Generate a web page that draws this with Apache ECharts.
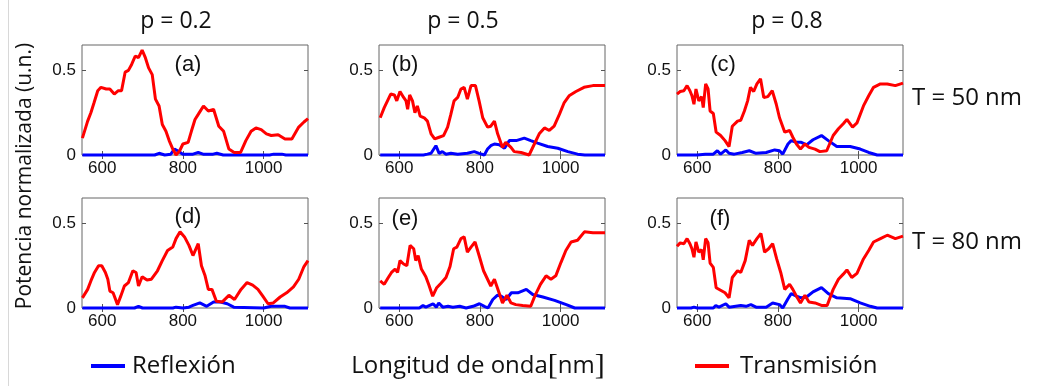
<!DOCTYPE html>
<html>
<head>
<meta charset="utf-8">
<script src="https://cdn.jsdelivr.net/npm/echarts@6.0.0/dist/echarts.min.js"></script>
<style>
  html, body { margin: 0; padding: 0; background: #fff; }
  #chart { width: 1039px; height: 386px; }
</style>
</head>
<body>
<div id="chart"></div>
<script>
// ejes comunes
const X_MIN = 550, X_MAX = 1110;
const Y_MIN = 0, Y_MAX = 0.65;
const xTicks = [600, 800, 1000];
const xTickLabels = ['600', '800', '1000'];
const yTicks = [0, 0.5];
const yTickLabels = ['0', '0.5'];

const panelLetters = ['(a)', '(b)', '(c)', '(d)', '(e)', '(f)'];
const colTitles = ['p = 0.2', 'p = 0.5', 'p = 0.8'];
const rowTitles = ['T = 50 nm', 'T = 80 nm'];
const seriesNames = ['Reflexión', 'Transmisión'];

// (a) p = 0.2, T = 50 nm
const transA = [[551,0.10],[564,0.20],[572,0.25],[580,0.31],[589,0.38],[597,0.40],[610,0.39],[619,0.39],[630,0.36],[640,0.38],[648,0.38],[657,0.49],[665,0.50],[673,0.535],[682,0.585],[690,0.575],[699,0.62],[707,0.575],[715,0.515],[724,0.475],[732,0.33],[741,0.29],[749,0.18],[758,0.14],[766,0.085],[775,0.035],[783,0.0],[792,0.025],[800,0.065],[813,0.075],[821,0.14],[830,0.21],[838,0.24],[851,0.29],[863,0.26],[876,0.27],[889,0.17],[901,0.14],[914,0.035],[927,0.015],[943,0.015],[956,0.085],[969,0.14],[981,0.16],[994,0.15],[1007,0.125],[1019,0.115],[1036,0.12],[1053,0.095],[1070,0.095],[1087,0.165],[1100,0.195],[1110,0.215]];
const reflA = [[551,0],[730,0],[741,0.01],[755,0],[770,0.005],[779,0.035],[787,0.025],[800,0.005],[825,0.005],[838,0.015],[850,0.005],[875,0.005],[884,0.01],[900,0],[1015,0],[1025,0.005],[1045,0.005],[1055,0],[1110,0]];

// (b) p = 0.5, T = 50 nm
const transB = [[553,0.22],[563,0.28],[571,0.32],[579,0.36],[588,0.355],[594,0.32],[602,0.375],[611,0.34],[617,0.32],[621,0.27],[626,0.355],[633,0.32],[639,0.25],[645,0.29],[652,0.23],[662,0.22],[670,0.20],[679,0.125],[688,0.095],[699,0.105],[710,0.115],[720,0.165],[728,0.24],[736,0.32],[745,0.34],[753,0.39],[761,0.40],[769,0.33],[778,0.41],[789,0.41],[798,0.32],[807,0.22],[819,0.165],[827,0.17],[836,0.20],[844,0.125],[856,0.045],[864,0.075],[877,0.045],[885,0.02],[902,0.015],[922,0.0],[935,0.065],[947,0.125],[960,0.16],[972,0.145],[984,0.17],[997,0.24],[1009,0.31],[1021,0.35],[1038,0.375],[1058,0.40],[1080,0.41],[1110,0.41]];
const reflB = [[553,0],[660,0],[670,0.005],[679,0.01],[691,0.055],[699,0.01],[707,0.02],[716,0.005],[728,0.01],[745,0.005],[769,0.01],[786,0.02],[798,0.01],[811,0.0],[819,0.035],[827,0.055],[836,0.065],[848,0.06],[861,0.04],[873,0.085],[890,0.085],[910,0.10],[926,0.085],[943,0.07],[968,0.05],[993,0.04],[1018,0.02],[1042,0.005],[1060,0],[1110,0]];

// (c) p = 0.8, T = 50 nm
const transC = [[550,0.36],[558,0.375],[567,0.38],[575,0.41],[582,0.38],[587,0.35],[592,0.30],[597,0.39],[604,0.32],[611,0.345],[615,0.28],[621,0.42],[627,0.39],[632,0.26],[640,0.245],[647,0.135],[658,0.115],[669,0.085],[679,0.05],[687,0.17],[700,0.20],[708,0.205],[717,0.26],[725,0.32],[732,0.40],[740,0.375],[748,0.42],[757,0.45],[765,0.34],[775,0.345],[786,0.38],[796,0.30],[804,0.22],[817,0.135],[829,0.145],[837,0.105],[846,0.065],[856,0.035],[867,0.065],[877,0.045],[892,0.035],[904,0.02],[921,0.025],[937,0.115],[950,0.155],[962,0.185],[971,0.21],[985,0.165],[996,0.19],[1012,0.29],[1025,0.35],[1037,0.40],[1054,0.42],[1071,0.42],[1091,0.41],[1110,0.425]];
const reflC = [[550,0],[600,0],[620,0.005],[640,0.005],[650,0.025],[658,0.005],[671,0.03],[679,0.01],[692,0.005],[712,0.015],[729,0.025],[746,0.01],[771,0.015],[792,0.03],[804,0.025],[812,0.005],[825,0.065],[833,0.085],[846,0.075],[858,0.075],[871,0.06],[887,0.09],[908,0.115],[925,0.085],[946,0.05],[979,0.05],[1004,0.035],[1025,0.015],[1046,0.0],[1110,0]];

// (d) p = 0.2, T = 80 nm
const transD = [[551,0.06],[564,0.11],[572,0.16],[581,0.21],[591,0.25],[599,0.25],[608,0.21],[614,0.17],[619,0.10],[627,0.09],[638,0.02],[646,0.07],[655,0.13],[665,0.15],[669,0.16],[676,0.22],[684,0.21],[690,0.13],[699,0.185],[711,0.165],[722,0.17],[737,0.22],[749,0.28],[762,0.34],[775,0.36],[783,0.41],[793,0.45],[804,0.42],[815,0.37],[825,0.31],[838,0.38],[846,0.25],[855,0.19],[863,0.11],[872,0.11],[883,0.04],[897,0.035],[914,0.075],[928,0.05],[944,0.11],[959,0.15],[973,0.135],[986,0.11],[998,0.07],[1011,0.025],[1024,0.03],[1041,0.065],[1057,0.09],[1074,0.125],[1087,0.17],[1100,0.245],[1110,0.28]];
const reflD = [[551,0],[680,0],[690,0.01],[700,0],[775,0],[783,0.005],[800,0],[815,0.005],[825,0.015],[842,0.03],[859,0.01],[876,0.035],[893,0.035],[910,0.025],[926,0.005],[1000,0],[1019,0.01],[1053,0.01],[1065,0],[1110,0]];

// (e) p = 0.5, T = 80 nm
const transE = [[553,0.16],[563,0.14],[573,0.18],[581,0.21],[590,0.23],[596,0.21],[602,0.28],[611,0.26],[619,0.25],[627,0.37],[636,0.35],[641,0.28],[647,0.31],[655,0.23],[666,0.185],[673,0.14],[683,0.07],[693,0.12],[703,0.145],[716,0.18],[726,0.245],[735,0.35],[743,0.36],[753,0.41],[761,0.42],[769,0.33],[778,0.36],[788,0.39],[798,0.31],[809,0.22],[819,0.17],[827,0.13],[836,0.17],[846,0.10],[856,0.03],[867,0.075],[877,0.03],[889,0.02],[906,0.015],[926,0.01],[936,0.07],[950,0.14],[964,0.19],[976,0.17],[988,0.19],[1001,0.27],[1013,0.34],[1026,0.39],[1042,0.40],[1059,0.45],[1080,0.445],[1110,0.445]];
const reflE = [[553,0],[650,0],[659,0.015],[666,0.005],[684,0.025],[692,0.005],[698,0.03],[708,0.005],[721,0.01],[733,0.005],[750,0.01],[766,0.0],[783,0.01],[799,0.025],[811,0.01],[820,0.0],[832,0.05],[843,0.075],[853,0.07],[865,0.05],[878,0.09],[894,0.09],[915,0.11],[931,0.08],[956,0.065],[985,0.045],[1014,0.02],[1035,0.0],[1110,0]];

// (f) p = 0.8, T = 80 nm
const transF = [[550,0.365],[558,0.385],[567,0.38],[575,0.41],[582,0.38],[587,0.35],[592,0.30],[597,0.39],[604,0.33],[611,0.345],[615,0.285],[621,0.41],[627,0.385],[632,0.265],[640,0.24],[647,0.12],[658,0.105],[669,0.09],[679,0.06],[687,0.18],[700,0.22],[708,0.21],[719,0.28],[729,0.40],[737,0.37],[748,0.41],[758,0.44],[767,0.33],[777,0.35],[787,0.38],[797,0.29],[807,0.21],[817,0.11],[829,0.14],[837,0.11],[846,0.07],[856,0.03],[867,0.075],[877,0.035],[892,0.03],[908,0.015],[922,0.015],[937,0.11],[950,0.17],[962,0.20],[971,0.225],[983,0.18],[996,0.205],[1012,0.29],[1025,0.34],[1037,0.39],[1054,0.41],[1071,0.43],[1091,0.41],[1110,0.425]];
const reflF = [[550,0],[585,0],[592,0.005],[600,0],[640,0],[646,0.015],[654,0.005],[671,0.025],[679,0.005],[708,0.015],[721,0.01],[733,0.02],[746,0.005],[771,0.005],[787,0.03],[804,0.02],[812,0.0],[825,0.055],[833,0.085],[846,0.07],[858,0.06],[871,0.065],[887,0.095],[908,0.12],[925,0.085],[946,0.06],[979,0.055],[1004,0.03],[1029,0.01],[1046,0],[1110,0]];

const reflData = [reflA, reflB, reflC, reflD, reflE, reflF];
const transData = [transA, transB, transC, transD, transE, transF];

// posiciones de los paneles (px)
const colLeft = [82, 379, 677];
const rowTop = [45, 198];
const panelW = 226, panelH = 110;

const chart = echarts.init(document.getElementById('chart'));

const grids = [], xAxes = [], yAxes = [], series = [];
const tickColor = '#555';
const labelFont = 'Liberation Sans, Arial, sans-serif';

for (let i = 0; i < 6; i++) {
  const r = Math.floor(i / 3), c = i % 3;
  grids.push({
    left: colLeft[c], top: rowTop[r], width: panelW, height: panelH,
    show: true, borderColor: '#666', borderWidth: 1, backgroundColor: '#fff'
  });
  // abajo / arriba
  xAxes.push({
    type: 'value', gridIndex: i, min: X_MIN, max: X_MAX,
    axisLine: { show: false },
    axisTick: { inside: true, length: 4, customValues: xTicks, lineStyle: { color: tickColor } },
    axisLabel: {
      customValues: xTicks, fontSize: 17, color: '#111', margin: 5, fontFamily: labelFont,
      formatter: v => xTickLabels[xTicks.indexOf(v)]
    },
    splitLine: { show: false }
  });
  xAxes.push({
    type: 'value', gridIndex: i, min: X_MIN, max: X_MAX, position: 'top',
    axisLine: { show: false },
    axisTick: { inside: true, length: 4, customValues: xTicks, lineStyle: { color: tickColor } },
    axisLabel: { show: false },
    splitLine: { show: false }
  });
  // izquierda / derecha
  yAxes.push({
    type: 'value', gridIndex: i, min: Y_MIN, max: Y_MAX,
    axisLine: { show: false },
    axisTick: { inside: true, length: 4, customValues: yTicks, lineStyle: { color: tickColor } },
    axisLabel: {
      customValues: yTicks, fontSize: 17, color: '#111', margin: 6, fontFamily: labelFont,
      formatter: v => yTickLabels[yTicks.indexOf(v)]
    },
    splitLine: { show: false }
  });
  yAxes.push({
    type: 'value', gridIndex: i, min: Y_MIN, max: Y_MAX, position: 'right',
    axisLine: { show: false },
    axisTick: { inside: true, length: 4, customValues: yTicks, lineStyle: { color: tickColor } },
    axisLabel: { show: false },
    splitLine: { show: false }
  });

  series.push({
    name: seriesNames[0], type: 'line', xAxisIndex: 2 * i, yAxisIndex: 2 * i,
    data: reflData[i], showSymbol: false, clip: false, z: 2,
    lineStyle: { width: 3, color: '#0000ff' }, itemStyle: { color: '#0000ff' }
  });
  series.push({
    name: seriesNames[1], type: 'line', xAxisIndex: 2 * i, yAxisIndex: 2 * i,
    data: transData[i], showSymbol: false, clip: false, z: 3,
    lineStyle: { width: 3, color: '#ff0000' }, itemStyle: { color: '#ff0000' }
  });
}

const textFont = '"Open Sans", "Noto Sans", sans-serif';
const letterPos = [[188, 65], [405, 65], [723, 65], [188, 217], [405, 219], [720, 219]];
const colTitlePos = [176, 463, 787];
const graphics = [
  { type: 'line', shape: { x1: 8.5, y1: 0, x2: 8.5, y2: 386 }, style: { stroke: '#d8d8d8', lineWidth: 1 } },
  {
    type: 'text', x: 25, y: 176, rotation: Math.PI / 2,
    style: { text: 'Potencia normalizada (u.n.)', font: '21px ' + textFont, fill: '#111', align: 'center', verticalAlign: 'middle' }
  },
  {
    type: 'text', x: 478, y: 366,
    style: {
      text: '{a|Longitud de onda}{c|[}{a|nm}{c|]}',
      align: 'center', verticalAlign: 'middle',
      rich: {
        a: { font: '24px ' + textFont, fill: '#111' },
        c: { font: '30px "Liberation Serif", serif', fill: '#111' }
      }
    }
  }
];
panelLetters.forEach((t, i) => {
  graphics.push({ type: 'text', x: letterPos[i][0], y: letterPos[i][1],
    style: { text: t, font: '22px ' + labelFont, fill: '#111', align: 'center', verticalAlign: 'middle' } });
});
colTitles.forEach((t, i) => {
  graphics.push({ type: 'text', x: colTitlePos[i], y: 21,
    style: { text: t, font: '23px ' + textFont, fill: '#111', align: 'center', verticalAlign: 'middle' } });
});
rowTitles.forEach((t, i) => {
  graphics.push({ type: 'text', x: 912, y: [98, 242][i],
    style: { text: t, font: '24px ' + textFont, fill: '#111', align: 'left', verticalAlign: 'middle' } });
});

chart.setOption({
  animation: false,
  backgroundColor: '#fff',
  grid: grids,
  xAxis: xAxes,
  yAxis: yAxes,
  series: series,
  legend: [
    { data: [seriesNames[0]], left: 86, top: 349, icon: 'rect', itemWidth: 34, itemHeight: 4, itemGap: 6,
      textStyle: { fontSize: 24, color: '#111', fontFamily: textFont, padding: [0, 0, 0, 2] } },
    { data: [seriesNames[1]], left: 690, top: 349, icon: 'rect', itemWidth: 34, itemHeight: 4, itemGap: 6,
      textStyle: { fontSize: 24, color: '#111', fontFamily: textFont, padding: [0, 0, 0, 6] } }
  ],
  graphic: graphics
});
</script>
</body>
</html>
